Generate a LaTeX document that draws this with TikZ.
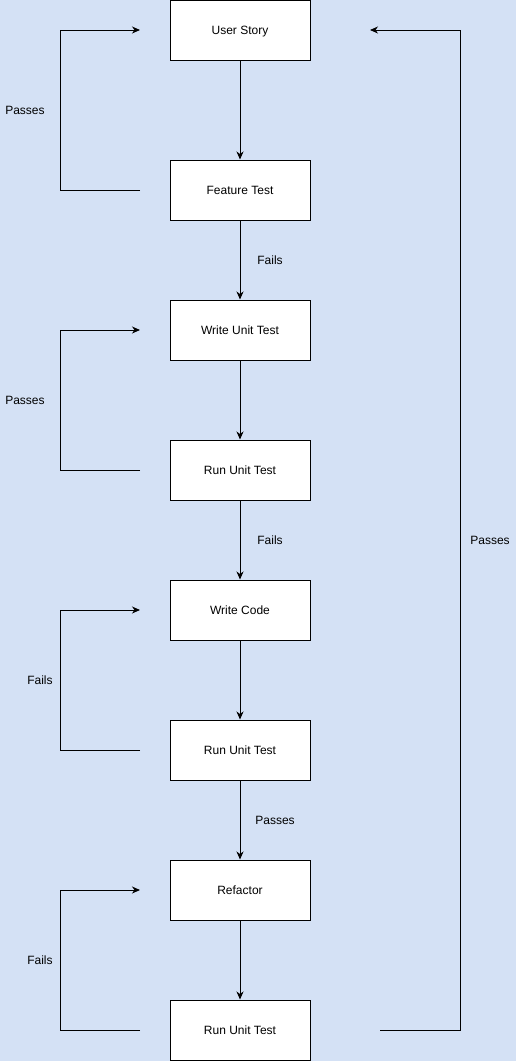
\documentclass[tikz,border=0pt]{standalone}
\usepackage{fontspec}
\setmainfont{Liberation Sans}
\usetikzlibrary{arrows.meta}
\definecolor{bg}{HTML}{D4E1F5}
\begin{document}
\begin{tikzpicture}[x=1pt,y=-1pt,
  box/.style={draw=black,fill=white,line width=1pt,minimum width=140pt,minimum height=60pt,inner sep=0pt,text height=10pt,text depth=1.4pt,font=\fontsize{12}{14}\selectfont},
  lbl/.style={font=\fontsize{12}{14}\selectfont,inner sep=0pt,text height=10pt,text depth=1.4pt},
  conn/.style={line width=1pt,-{Stealth[length=8pt,width=7pt,inset=2.5pt]}},
  plain/.style={line width=1pt}]
\fill[bg] (0,0) rectangle (516,1061);
\useasboundingbox (0,0) rectangle (516,1061);
\node[box] (us) at (240,30) {User Story};
\node[box] (ft) at (240,190) {Feature Test};
\node[box] (wut) at (240,330) {Write Unit Test};
\node[box] (rut1) at (240,470) {Run Unit Test};
\node[box] (wc) at (240,610) {Write Code};
\node[box] (rut2) at (240,750) {Run Unit Test};
\node[box] (rf) at (240,890) {Refactor};
\node[box] (rut3) at (240,1030) {Run Unit Test};
% vertical arrows
\draw[conn] (us) -- (ft);
\draw[conn] (ft) -- (wut);
\draw[conn] (wut) -- (rut1);
\draw[conn] (rut1) -- (wc);
\draw[conn] (wc) -- (rut2);
\draw[conn] (rut2) -- (rf);
\draw[conn] (rf) -- (rut3);
\node[lbl] (l1) at (270,260) {Fails};
\node[lbl] (l2) at (270,540) {Fails};
\node[lbl] (l3) at (275,820) {Passes};
% left loops
\coordinate (a1s) at (140,190); \coordinate (a1e) at (140,30);
\coordinate (a2s) at (140,470); \coordinate (a2e) at (140,330);
\coordinate (a3s) at (140,750); \coordinate (a3e) at (140,610);
\coordinate (a4s) at (140,1030); \coordinate (a4e) at (140,890);
\draw[conn] (a1s) -- (60,190) -- (60,30) -- (a1e);
\draw[conn] (a2s) -- (60,470) -- (60,330) -- (a2e);
\draw[conn] (a3s) -- (60,750) -- (60,610) -- (a3e);
\draw[conn] (a4s) -- (60,1030) -- (60,890) -- (a4e);
\node[lbl] (p1) at (25,110) {Passes};
\node[lbl] (p2) at (25,400) {Passes};
\node[lbl] (f1) at (40,680) {Fails};
\node[lbl] (f2) at (40,960) {Fails};
% right loop
\coordinate (rs) at (380,1030); \coordinate (re) at (370,30);
\draw[conn] (rs) -- (460,1030) -- (460,30) -- (re);
\node[lbl] (p3) at (490,540) {Passes};
\end{tikzpicture}
\end{document}
